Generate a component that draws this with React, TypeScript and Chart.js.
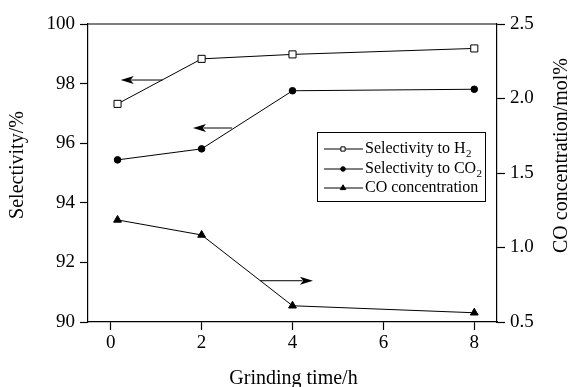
import React, { useEffect, useRef } from "react";
import { Chart, registerables } from "chart.js";

Chart.register(...registerables);

// ---- data ----
const grindingTime = [0.15, 2, 4, 8];
const selectivityH2 = [97.32, 98.83, 98.98, 99.18];
const selectivityCO2 = [95.44, 95.81, 97.76, 97.81];
const coConcentration = [1.185, 1.084, 0.609, 0.562];

const xTicks = [0, 2, 4, 6, 8];
const leftTicks = [90, 92, 94, 96, 98, 100];
const rightTicks = [0.5, 1.0, 1.5, 2.0, 2.5];

// arrows pointing to the axis each curve belongs to (data coordinates)
const arrowTailX = [1.14, 2.67, 3.29];
const arrowTipX = [0.22, 1.81, 4.45];
const arrowY = [98.12, 96.51, 0.777];
const arrowAxis = ["y", "y", "y1"];

const legendLabels = ["Selectivity to H", "Selectivity to CO", "CO concentration"];
const legendSubs = ["2", "2", ""];

const xTitle = "Grinding time/h";
const yTitle = "Selectivity/%";
const y1Title = "CO concentration/mol%";

const FONT = "'Liberation Serif', 'Times New Roman', serif";

const decorPlugin = {
  id: "decor",
  afterDraw(chart: any) {
    const { ctx, chartArea: ca, scales } = chart;
    ctx.save();
    ctx.strokeStyle = "#000";
    ctx.fillStyle = "#000";

    // top frame line
    ctx.lineWidth = 1.2;
    ctx.beginPath();
    ctx.moveTo(ca.left, ca.top);
    ctx.lineTo(ca.right, ca.top);
    ctx.stroke();

    // arrows
    for (let i = 0; i < arrowTipX.length; i++) {
      const ys = scales[arrowAxis[i]];
      const y = ys.getPixelForValue(arrowY[i]);
      const xt = scales.x.getPixelForValue(arrowTailX[i]);
      const xh = scales.x.getPixelForValue(arrowTipX[i]);
      const dir = Math.sign(xh - xt);
      const headLen = 13;
      const headHalf = 4;
      ctx.lineWidth = 1;
      ctx.beginPath();
      ctx.moveTo(xt, y);
      ctx.lineTo(xh - dir * headLen * 0.8, y);
      ctx.stroke();
      ctx.beginPath();
      ctx.moveTo(xh, y);
      ctx.lineTo(xh - dir * headLen, y - headHalf);
      ctx.lineTo(xh - dir * headLen * 0.75, y);
      ctx.lineTo(xh - dir * headLen, y + headHalf);
      ctx.closePath();
      ctx.fill();
    }

    // legend box
    const bx = ca.left + 229;
    const by = ca.top + 108;
    const bw = 168;
    const bh = 69;
    ctx.lineWidth = 1;
    ctx.strokeRect(bx + 0.5, by + 0.5, bw, bh);
    const rowY = [by + 17, by + 37, by + 56];
    const styles = ["rect", "circle", "triangle"];
    const radii = [3, 2.3, 3.2];
    const fills = ["#fff", "#000", "#000"];
    for (let i = 0; i < legendLabels.length; i++) {
      const ry = rowY[i];
      ctx.lineWidth = 1;
      ctx.strokeStyle = "#000";
      ctx.beginPath();
      ctx.moveTo(bx + 7, ry);
      ctx.lineTo(bx + 46, ry);
      ctx.stroke();
      ctx.fillStyle = fills[i];
      (Chart as any).helpers
        ? null
        : null;
      drawMarker(ctx, styles[i], bx + 26, ry, radii[i], fills[i]);
      ctx.fillStyle = "#000";
      ctx.font = `16px ${FONT}`;
      ctx.textAlign = "left";
      ctx.textBaseline = "middle";
      const tx = bx + 48;
      ctx.fillText(legendLabels[i], tx, ry);
      if (legendSubs[i]) {
        const w = ctx.measureText(legendLabels[i]).width;
        ctx.font = `11px ${FONT}`;
        ctx.fillText(legendSubs[i], tx + w + 0.5, ry + 5);
      }
    }

    // axis titles
    ctx.fillStyle = "#000";
    ctx.font = `20px ${FONT}`;
    ctx.textAlign = "center";
    ctx.textBaseline = "alphabetic";
    ctx.fillText(xTitle, (ca.left + ca.right) / 2 + 1, 384);

    ctx.textBaseline = "middle";
    ctx.save();
    ctx.translate(18, 165);
    ctx.rotate(-Math.PI / 2);
    ctx.fillText(yTitle, 0, 0);
    ctx.restore();

    ctx.save();
    ctx.translate(561.5, 155.5);
    ctx.rotate(-Math.PI / 2);
    ctx.fillText(y1Title, 0, 0);
    ctx.restore();

    ctx.restore();
  },
};

function drawMarker(ctx: CanvasRenderingContext2D, style: string, x: number, y: number, r: number, fill: string) {
  ctx.save();
  ctx.fillStyle = fill;
  ctx.strokeStyle = "#000";
  ctx.lineWidth = 1;
  ctx.beginPath();
  if (style === "rect") {
    const s = r * Math.SQRT1_2 * 1.0;
    ctx.rect(x - s, y - s, 2 * s, 2 * s);
  } else if (style === "circle") {
    ctx.arc(x, y, r, 0, Math.PI * 2);
  } else {
    const h = r * 1.5;
    ctx.moveTo(x, y - r);
    ctx.lineTo(x + r * 0.866 * 1.0, y + r * 0.5);
    ctx.lineTo(x - r * 0.866 * 1.0, y + r * 0.5);
    ctx.closePath();
    void h;
  }
  ctx.fill();
  ctx.stroke();
  ctx.restore();
}

export default function App() {
  const ref = useRef<HTMLCanvasElement | null>(null);

  useEffect(() => {
    if (!ref.current) return;
    const tickFont = { family: FONT, size: 19 };
    const axisCommon = (extra: any) => ({
      grid: {
        drawOnChartArea: false,
        drawTicks: true,
        tickLength: 8,
        color: "#000",
        tickWidth: 1.2,
      },
      border: { display: true, color: "#000", width: 1.2 },
      ...extra,
    });

    const chart = new Chart(ref.current, {
      type: "line",
      data: {
        datasets: [
          {
            label: "Selectivity to H2",
            data: grindingTime.map((x, i) => ({ x, y: selectivityH2[i] })),
            yAxisID: "y",
            borderColor: "#000",
            borderWidth: 1,
            pointStyle: "rect",
            pointRadius: 5,
            pointBackgroundColor: "#fff",
            pointBorderColor: "#000",
            pointBorderWidth: 1,
          },
          {
            label: "Selectivity to CO2",
            data: grindingTime.map((x, i) => ({ x, y: selectivityCO2[i] })),
            yAxisID: "y",
            borderColor: "#000",
            borderWidth: 1,
            pointStyle: "circle",
            pointRadius: 3.3,
            pointBackgroundColor: "#000",
            pointBorderColor: "#000",
            pointBorderWidth: 1,
          },
          {
            label: "CO concentration",
            data: grindingTime.map((x, i) => ({ x, y: coConcentration[i] })),
            yAxisID: "y1",
            borderColor: "#000",
            borderWidth: 1,
            pointStyle: "triangle",
            pointRadius: 4.5,
            pointBackgroundColor: "#000",
            pointBorderColor: "#000",
            pointBorderWidth: 1,
          },
        ],
      },
      options: {
        responsive: false,
        animation: false,
        devicePixelRatio: 1,
        layout: { padding: { top: 24, left: 0, right: 0, bottom: 0 } },
        plugins: {
          legend: { display: false },
          tooltip: { enabled: false },
        },
        scales: {
          x: axisCommon({
            type: "linear",
            min: -0.5,
            max: 8.5,
            afterBuildTicks: (s: any) => {
              s.ticks = xTicks.map((v) => ({ value: v }));
            },
            afterFit: (s: any) => {
              s.height = 65;
            },
            ticks: { font: tickFont, color: "#000", padding: 2, maxRotation: 0 },
          }),
          y: axisCommon({
            type: "linear",
            position: "left",
            min: 90,
            max: 100,
            afterBuildTicks: (s: any) => {
              s.ticks = leftTicks.map((v) => ({ value: v }));
            },
            afterFit: (s: any) => {
              s.width = 88;
            },
            ticks: { font: tickFont, color: "#000", padding: 5 },
          }),
          y1: axisCommon({
            type: "linear",
            position: "right",
            min: 0.5,
            max: 2.5,
            afterBuildTicks: (s: any) => {
              s.ticks = rightTicks.map((v) => ({ value: v }));
            },
            afterFit: (s: any) => {
              s.width = 73;
            },
            ticks: {
              font: tickFont,
              color: "#000",
              padding: 5,
              callback: (v: any) => Number(v).toFixed(1),
            },
          }),
        },
      },
      plugins: [decorPlugin],
    });
    return () => chart.destroy();
  }, []);

  return (
    <div style={{ position: "absolute", left: 0, top: 0, width: 570, height: 387, background: "#fff" }}>
      <canvas ref={ref} width={570} height={387} style={{ display: "block" }} />
    </div>
  );
}
